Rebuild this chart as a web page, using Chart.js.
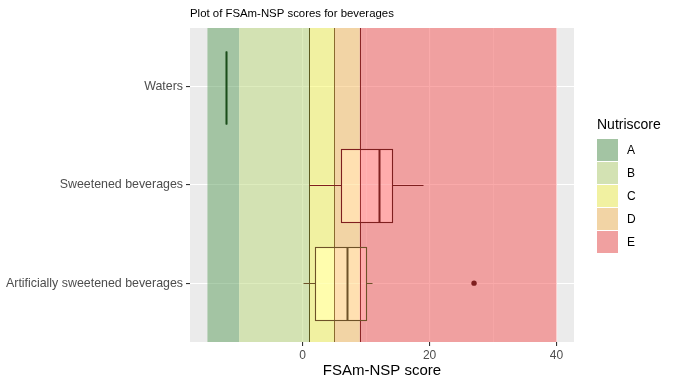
<!DOCTYPE html>
<html>
<head>
<meta charset="utf-8">
<script src="https://cdn.jsdelivr.net/npm/chart.js@4"></script>
<style>
  html, body { margin: 0; padding: 0; background: #fff; }
  canvas { display: block; }
</style>
</head>
<body>
<canvas id="chart" width="679" height="388"></canvas>
<script>
// categories, bottom to top (ggplot order)
const categories = ["Artificially sweetened beverages", "Sweetened beverages", "Waters"];
const whiskerLow = [0, 1, -12];
const q1 = [2, 6, -12];
const median = [7, 12, -12];
const q3 = [10, 14, -12];
const whiskerHigh = [11, 19, -12];
const outliers = [[27], [], []];

// Nutriscore bands along the score axis
const bandLabels = ["A", "B", "C", "D", "E"];
const bandFrom = [-15, -10, 1, 5, 9];
const bandTo = [-10, 1, 5, 9, 40];

const xTicks = [-10, 0, 10, 20, 30, 40];
const xLabelled = [0, 20, 40];

const bandFill = ["rgba(91,157,91,0.5)", "rgba(187,217,123,0.5)", "rgba(247,247,87,0.5)", "rgba(249,189,95,0.5)", "rgba(245,85,85,0.5)"];
const bandEdge = [null, null, "#5c5a1e", "#8a6a30", "#8b2525"];
const boxColor = ["#6e5228", "#7f1f1f", "#1a4d1a"];
const FONT = "'Liberation Sans', Arial, sans-serif";

const bgPlugin = {
  id: "panel",
  beforeDraw(chart) {
    const { ctx, chartArea: a } = chart;
    ctx.save();
    ctx.fillStyle = "#fff";
    ctx.fillRect(0, 0, chart.width, chart.height);
    ctx.fillStyle = "#ebebeb";
    ctx.fillRect(a.left, a.top, a.right - a.left, a.bottom - a.top);
    ctx.restore();
  },
  beforeDatasetsDraw(chart) {
    const { ctx, chartArea: a, scales: { x, y } } = chart;
    ctx.save();
    bandLabels.forEach((b, i) => {
      const x0 = x.getPixelForValue(bandFrom[i]);
      const x1 = x.getPixelForValue(bandTo[i]);
      ctx.fillStyle = bandFill[i];
      ctx.fillRect(x0, a.top, x1 - x0, a.bottom - a.top);
    });
    bandLabels.forEach((b, i) => {
      if (!bandEdge[i]) return;
      const px = Math.round(x.getPixelForValue(bandFrom[i])) + 0.5;
      ctx.strokeStyle = bandEdge[i];
      ctx.lineWidth = 1;
      ctx.beginPath();
      ctx.moveTo(px, a.top);
      ctx.lineTo(px, a.bottom);
      ctx.stroke();
    });

    // boxplots
    const half = (y.getPixelForValue(1) - y.getPixelForValue(2)) * 0.375;
    categories.forEach((c, i) => {
      const cy = Math.round(y.getPixelForValue(i + 1)) + 0.5;
      const top = Math.round(cy - half) + 0.5, bot = Math.round(cy + half) + 0.5;
      const px = v => Math.round(x.getPixelForValue(v)) + 0.5;
      // light fill that brightens whatever band is below
      ctx.globalCompositeOperation = "lighter";
      ctx.fillStyle = "rgb(16,12,12)";
      ctx.fillRect(px(q1[i]), top, px(q3[i]) - px(q1[i]), bot - top);
      ctx.globalCompositeOperation = "source-over";
      ctx.strokeStyle = boxColor[i];
      ctx.lineWidth = 1.1;
      ctx.beginPath();
      ctx.moveTo(px(whiskerLow[i]), cy); ctx.lineTo(px(q1[i]), cy);
      ctx.moveTo(px(q3[i]), cy); ctx.lineTo(px(whiskerHigh[i]), cy);
      ctx.stroke();
      ctx.strokeRect(px(q1[i]), top, px(q3[i]) - px(q1[i]), bot - top);
      ctx.lineWidth = 2;
      ctx.beginPath();
      ctx.moveTo(px(median[i]), top); ctx.lineTo(px(median[i]), bot);
      ctx.stroke();
    });
    ctx.restore();
  },
  afterDraw(chart) {
    const { ctx, chartArea: a } = chart;
    ctx.save();
    ctx.fillStyle = "#000";
    ctx.textBaseline = "middle";
    ctx.font = "11.4px " + FONT;
    ctx.fillText("Plot of FSAm-NSP scores for beverages", a.left, 14);

    // legend
    ctx.font = "14px " + FONT;
    ctx.fillText("Nutriscore", 597, 125);
    ctx.font = "12px " + FONT;
    bandLabels.forEach((b, i) => {
      const ty = 139 + i * 23;
      ctx.fillStyle = "#ebebeb";
      ctx.fillRect(597, ty, 21, 22);
      ctx.fillStyle = bandFill[i];
      ctx.fillRect(597, ty, 21, 22);
      ctx.fillStyle = "#000";
      ctx.fillText(b, 627, ty + 12);
    });
    ctx.restore();
  }
};

new Chart(document.getElementById("chart"), {
  type: "scatter",
  data: {
    datasets: [{
      data: outliers.flatMap((vals, i) => vals.map(v => ({ x: v, y: i + 1 }))),
      backgroundColor: "#7f1f1f",
      borderWidth: 0,
      pointRadius: 2.7
    }]
  },
  options: {
    responsive: false,
    animation: false,
    devicePixelRatio: 1,
    layout: { padding: { top: 28, right: 105, left: 0, bottom: 0 } },
    plugins: { legend: { display: false }, tooltip: { enabled: false } },
    scales: {
      x: {
        type: "linear", min: -17.75, max: 42.75,
        afterBuildTicks: s => { s.ticks = xTicks.map(v => ({ value: v })); },
        afterFit: s => { s.height = 46; },
        border: { display: false },
        grid: {
          color: "#fff",
          lineWidth: c => (c.tick && xLabelled.includes(c.tick.value)) ? 1.1 : 0.55,
          tickColor: c => (c.tick && xLabelled.includes(c.tick.value)) ? "#333" : "rgba(0,0,0,0)",
          tickLength: 4
        },
        ticks: {
          callback: v => xLabelled.includes(v) ? String(v) : "",
          color: "#4d4d4d", font: { family: FONT, size: 12 }, padding: 2, maxRotation: 0, autoSkip: false
        },
        title: { display: true, text: "FSAm-NSP score", color: "#000", font: { family: FONT, size: 15 }, padding: { top: 0, bottom: 8 } }
      },
      y: {
        type: "linear", min: 0.4, max: 3.6,
        afterBuildTicks: s => { s.ticks = [1, 2, 3].map(v => ({ value: v })); },
        afterFit: s => { s.width = 190; },
        border: { display: false },
        grid: { color: "#fff", lineWidth: 1.1, tickColor: "#333", tickLength: 4 },
        ticks: {
          callback: v => categories[v - 1],
          color: "#4d4d4d", font: { family: FONT, size: 12.4 }, padding: 3, autoSkip: false
        }
      }
    }
  },
  plugins: [bgPlugin]
});
</script>
</body>
</html>
